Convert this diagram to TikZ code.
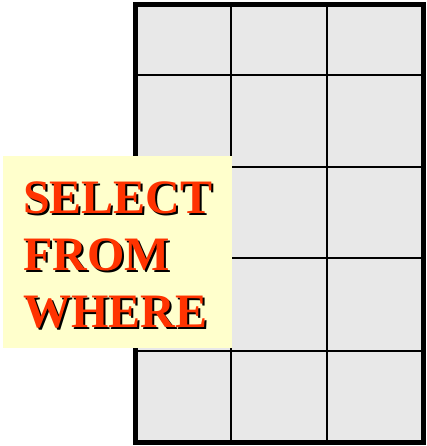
\documentclass[tikz,border=0pt]{standalone}
\usepackage{fontspec}
\setmainfont{Liberation Serif}
\definecolor{cellgrey}{RGB}{232,232,232}
\definecolor{noteyellow}{RGB}{255,255,204}
\definecolor{sqlred}{RGB}{255,51,0}
\usetikzlibrary{positioning}

\begin{document}
\begin{tikzpicture}[
        x=1pt, y=1pt,
        gridline/.style={draw, line width=2.5pt},
        frame/.style={draw, line width=5pt},
        note/.style={fill=noteyellow, inner sep=0pt, minimum width=229pt, minimum height=192pt},
        sqltext/.style={inner sep=0pt, anchor=west, align=left,
          font=\bfseries\fontsize{48}{57}\selectfont}
      ]
      \useasboundingbox (0,0) rectangle (427,446);
      % table
      \fill[cellgrey] (135,3) rectangle (423.5,441.5);
      \foreach \x in {231,327}
        \draw[gridline] (\x,3) -- (\x,441.5);
      \foreach \y in {371,279,188,95}
        \draw[gridline] (135,\y) -- (423.5,\y);
      \draw[frame] (135,3) rectangle (423.5,441.5);
      % query box
      \node[note] (box) at (117.5,194) {};
      \node[sqltext, text=black] (shadow) at (25,189.5) {SELECT\\FROM\\WHERE};
      \node[sqltext, text=sqlred] (query) at (23,191.5) {SELECT\\FROM\\WHERE};
    \end{tikzpicture}
\end{document}
